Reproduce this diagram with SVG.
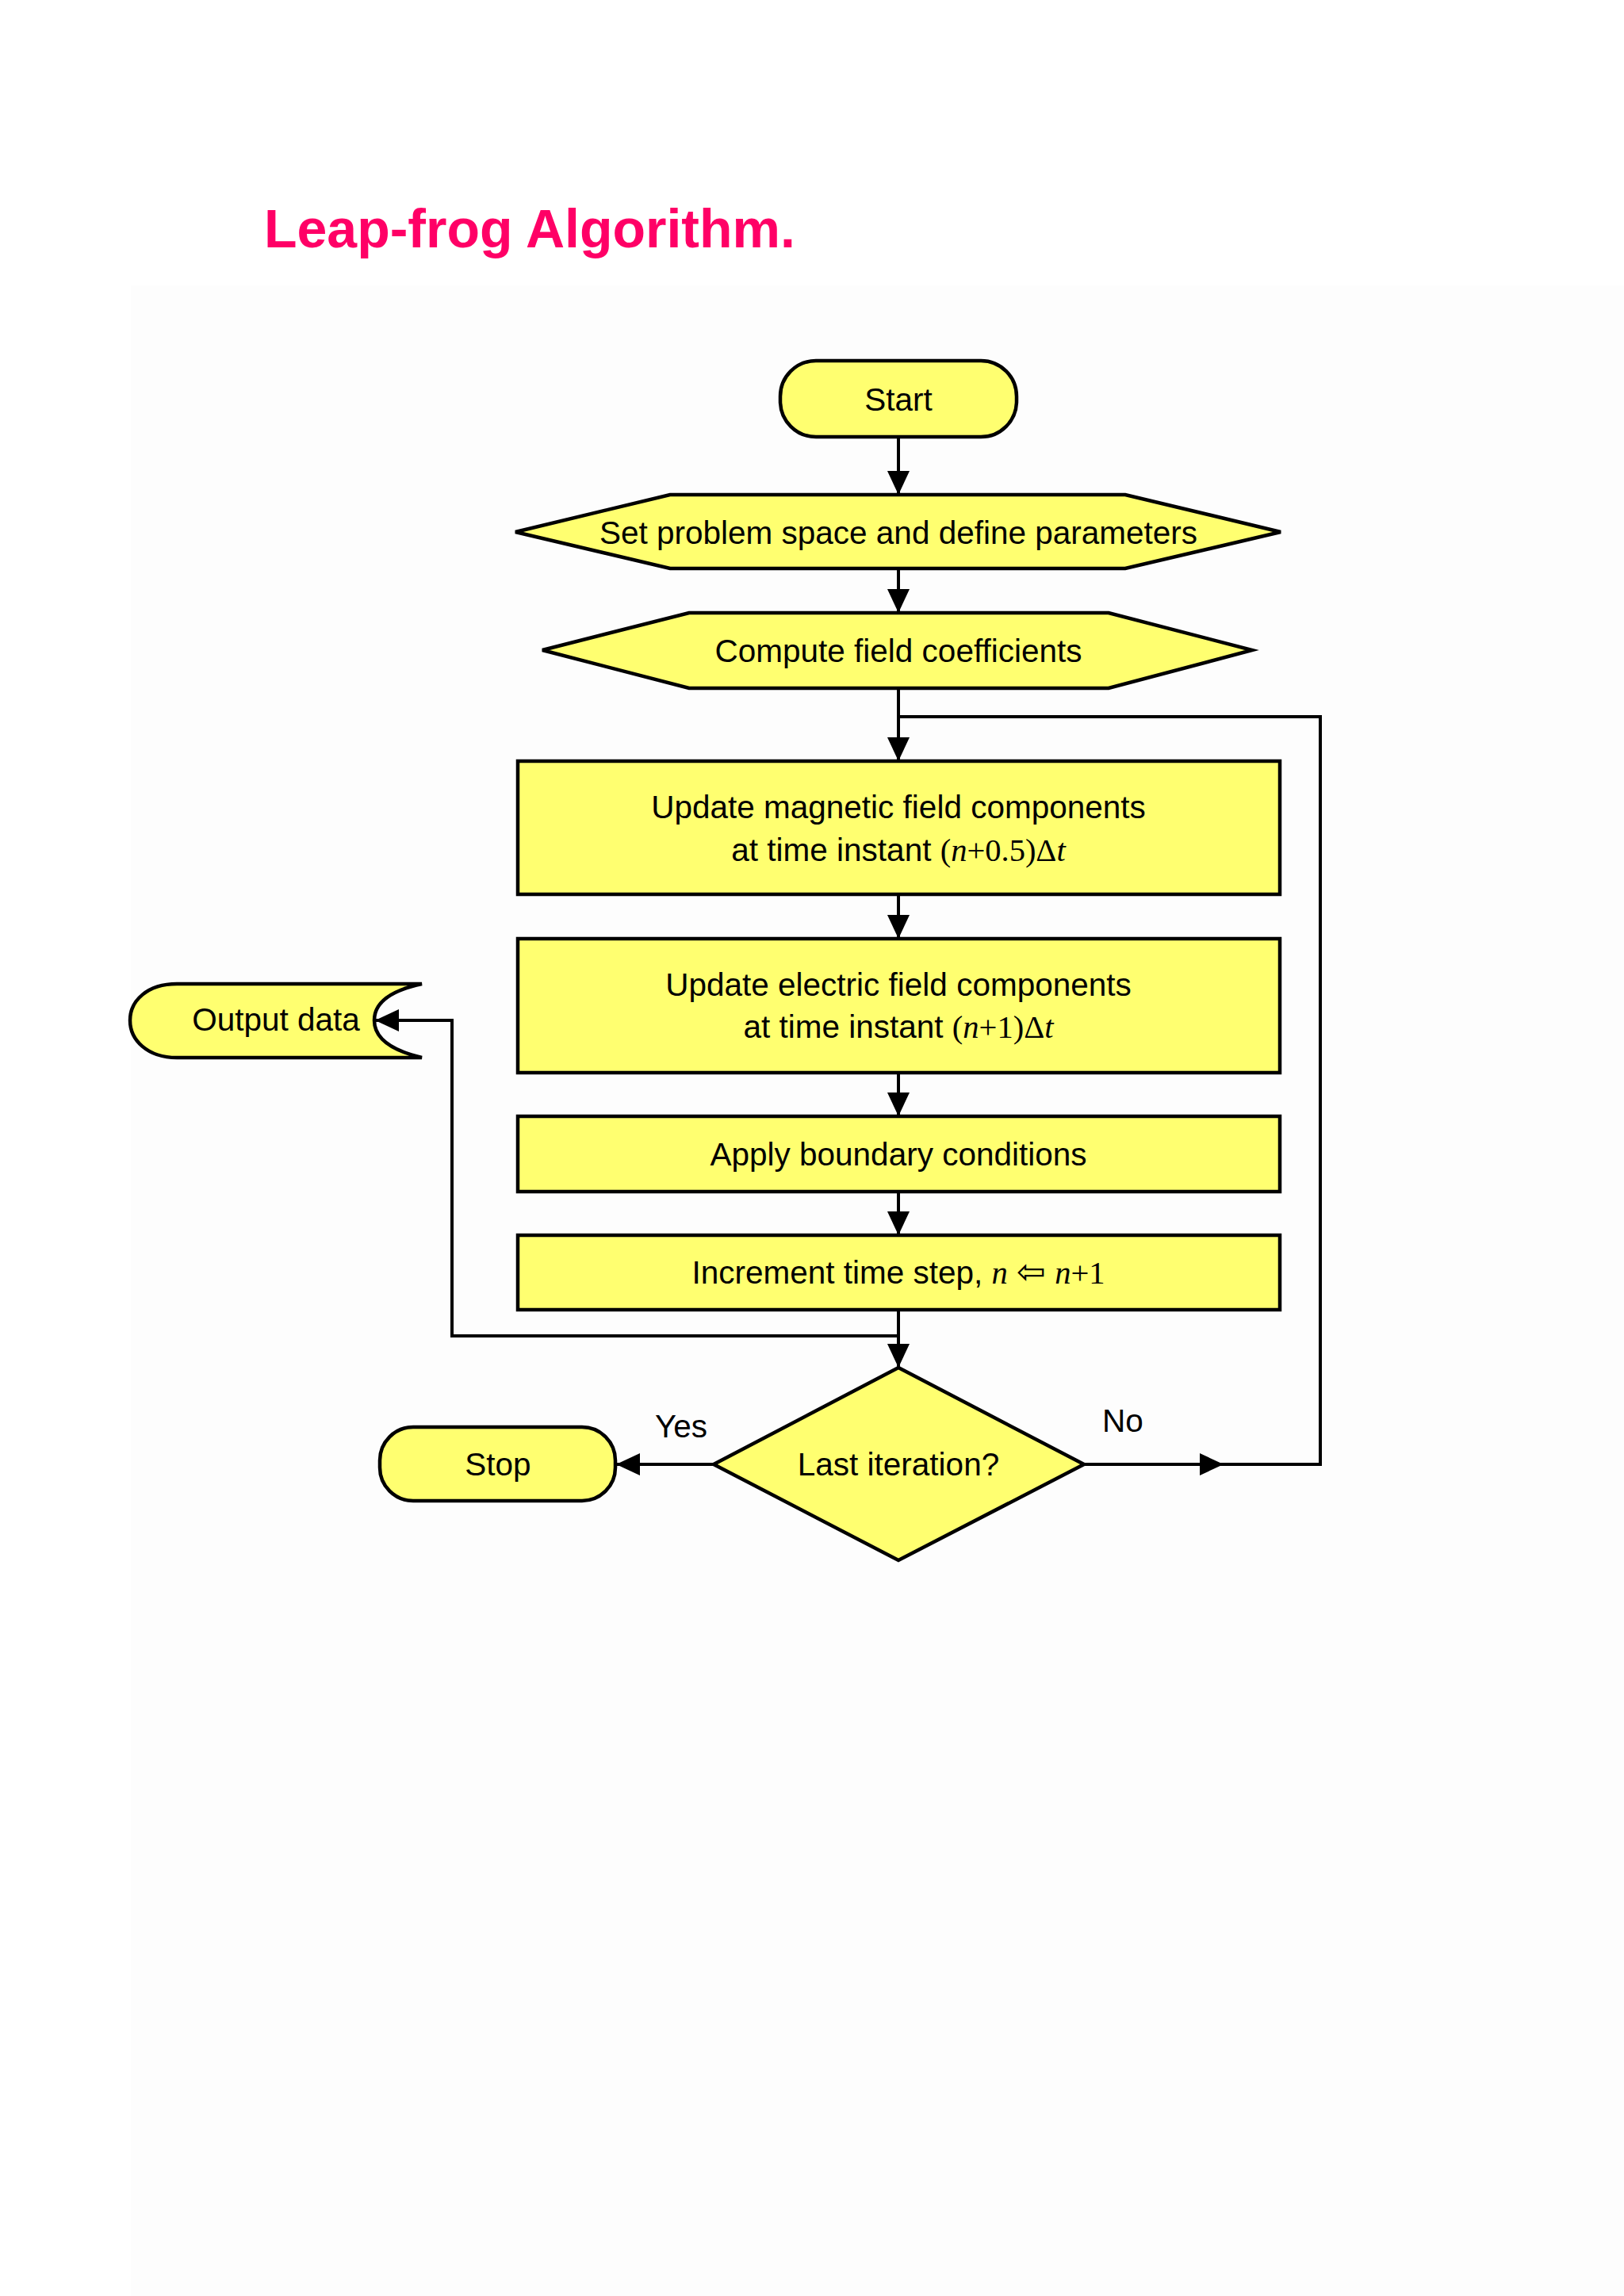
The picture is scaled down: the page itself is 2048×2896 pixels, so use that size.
<svg xmlns="http://www.w3.org/2000/svg" width="2048" height="2896" viewBox="0 0 2048 2896">
<defs>
<style>
.shape{fill:#FFFF70;stroke:#000;stroke-width:4.5;stroke-linejoin:miter}
.t{font-family:"Liberation Sans",Arial,sans-serif;font-size:40.5px;fill:#000;text-anchor:middle}
.m{font-family:"Liberation Serif","Times New Roman",serif}
.i{font-style:italic}
.line{fill:none;stroke:#000;stroke-width:4}
</style>
<marker id="ah" viewBox="0 0 30 28" refX="30" refY="14" markerWidth="30" markerHeight="28" markerUnits="userSpaceOnUse" orient="auto">
<path d="M0,0 L30,14 L0,28 Z" fill="#000"/>
</marker>
</defs>
<rect x="0" y="0" width="2048" height="2896" fill="#FFFFFF"/>
<rect x="165" y="360" width="1883" height="2536" fill="#FDFDFD"/>
<text id="title" x="333" y="312" font-family="'Liberation Sans',Arial,sans-serif" font-size="68" font-weight="bold" fill="#FF0066">Leap-frog Algorithm.</text>

<g id="connectors">
<path class="line" d="M1133,551 L1133,624" marker-end="url(#ah)"/>
<path class="line" d="M1133,717 L1133,773" marker-end="url(#ah)"/>
<path class="line" d="M1133,868 L1133,960" marker-end="url(#ah)"/>
<path class="line" d="M1133,1128 L1133,1184" marker-end="url(#ah)"/>
<path class="line" d="M1133,1353 L1133,1408" marker-end="url(#ah)"/>
<path class="line" d="M1133,1503 L1133,1558" marker-end="url(#ah)"/>
<path class="line" d="M1133,1652 L1133,1725" marker-end="url(#ah)"/>
<path class="line" d="M1133,1685 L570,1685 L570,1287 L473,1287" marker-end="url(#ah)"/>
<path class="line" d="M900,1847 L777,1847" marker-end="url(#ah)"/>
<path class="line" d="M1367,1847 L1543,1847" marker-end="url(#ah)"/>
<path class="line" d="M1540,1847 L1665,1847 L1665,904 L1133,904"/>
<text class="t" x="859" y="1813">Yes</text>
<text class="t" x="1416" y="1806">No</text>
</g>

<g id="start">
<rect class="shape" x="984" y="455" width="298" height="96" rx="45" ry="45"/>
<text class="t" x="1133" y="518">Start</text>
</g>

<g id="setup">
<polygon class="shape" points="650,671 845,624 1419,624 1615,671 1419,717 845,717"/>
<text class="t" x="1133" y="686">Set problem space and define parameters</text>
</g>

<g id="coeff">
<polygon class="shape" points="684,820 869,773 1398,773 1579,820 1398,868 869,868"/>
<text class="t" x="1133" y="835">Compute field coefficients</text>
</g>

<g id="updateH">
<rect class="shape" x="653" y="960" width="961" height="168"/>
<text class="t" x="1133" y="1032">Update magnetic field components</text>
<text class="t" x="1133" y="1086">at time instant <tspan class="m">(<tspan class="i">n</tspan>+0.5)Δ<tspan class="i">t</tspan></tspan></text>
</g>

<g id="updateE">
<rect class="shape" x="653" y="1184" width="961" height="169"/>
<text class="t" x="1133" y="1256">Update electric field components</text>
<text class="t" x="1133" y="1309">at time instant <tspan class="m">(<tspan class="i">n</tspan>+1)Δ<tspan class="i">t</tspan></tspan></text>
</g>

<g id="boundary">
<rect class="shape" x="653" y="1408" width="961" height="95"/>
<text class="t" x="1133" y="1470">Apply boundary conditions</text>
</g>

<g id="increment">
<rect class="shape" x="653" y="1558" width="961" height="94"/>
<text class="t" x="1133" y="1619">Increment time step, <tspan class="m i">n</tspan> <tspan font-family="'DejaVu Sans',sans-serif" font-size="44">⇦</tspan> <tspan class="m"><tspan class="i">n</tspan>+1</tspan></text>
</g>

<g id="output">
<path class="shape" d="M532,1241 L223,1241 C186,1241 164,1262 164,1287 C164,1312 186,1334 223,1334 L532,1334 C494,1325 472,1310 472,1287 C472,1264 494,1249 532,1241 Z"/>
<text class="t" x="348" y="1300">Output data</text>
</g>

<g id="decision">
<polygon class="shape" points="1133,1725 1367,1847 1133,1968 900,1847"/>
<text class="t" x="1133" y="1861">Last iteration?</text>
</g>

<g id="stop">
<rect class="shape" x="479" y="1800" width="297" height="93" rx="42" ry="42"/>
<text class="t" x="628" y="1861">Stop</text>
</g>
</svg>
